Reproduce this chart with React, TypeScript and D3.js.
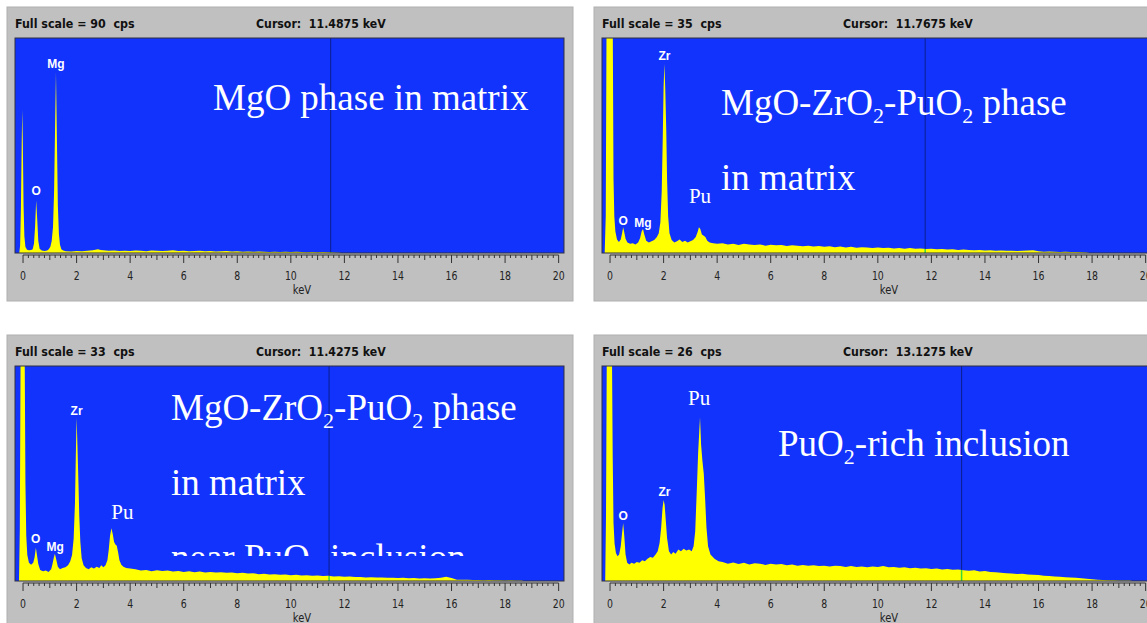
import * as d3 from "d3";

type Pt = [number, number];

// ---- data (keV, cps) ----
const fullScales = [90, 35, 33, 26];
const cursorKeV = [11.4875, 11.7675, 11.4275, 13.1275];
const majorTicks = [0, 2, 4, 6, 8, 10, 12, 14, 16, 18, 20];
const tailStep = 0.2;

// MgO phase in matrix
const mgoPeaks: Pt[] = [
  [-0.3, 0], [-0.14, 0], [-0.11, 3], [-0.08, 18], [-0.05, 45], [-0.03, 60], [-0.01, 48],
  [0.02, 20], [0.05, 7], [0.09, 2.5], [0.15, 1.4], [0.22, 1.1], [0.3, 1.3], [0.36, 1.6],
  [0.41, 4], [0.45, 11], [0.49, 22], [0.53, 14], [0.57, 5], [0.62, 1.8], [0.7, 1.0],
  [0.8, 0.8], [0.9, 1.0], [0.96, 1.6], [1.02, 2.6], [1.07, 5], [1.12, 11], [1.16, 26],
  [1.2, 55], [1.23, 75.8], [1.26, 52], [1.3, 20], [1.34, 8], [1.38, 3.5], [1.43, 1.6],
  [1.5, 1.0], [1.6, 0.7], [1.8, 0.6], [2.0, 0.8], [2.2, 0.7], [2.4, 0.9], [2.6, 1.1],
  [2.8, 1.6], [2.9, 1.3],
];
const mgoTailStart = 3.0;
const mgoTail = [
  1.2, 0.9, 1.0, 0.8, 0.9, 0.8, 1.0, 0.9, 0.7, 1.0, 0.9, 0.8, 0.9, 1.1, 0.8, 0.9, 0.7, 0.8,
  0.9, 0.7, 0.8, 0.6, 0.7, 0.8, 0.6, 0.7, 0.5, 0.6, 0.5, 0.6, 0.5, 0.4, 0.5, 0.4, 0.5, 0.4,
  0.5, 0.4, 0.3, 0.4, 0.3, 0.4, 0.3, 0.2, 0.1,
];
const mgoEnd = 11.9;

// MgO-ZrO2-PuO2 phase in matrix
const matrixPeaks: Pt[] = [
  [-0.3, 0], [-0.2, 0], [-0.16, 6], [-0.13, 40], [-0.08, 80], [0, 95], [0.06, 80], [0.1, 40],
  [0.13, 12], [0.16, 6], [0.2, 3.5], [0.26, 2.2], [0.33, 1.8], [0.4, 2.2], [0.45, 3.2],
  [0.49, 4.2], [0.53, 3.4], [0.58, 2.3], [0.65, 1.7], [0.75, 1.5], [0.85, 1.6], [0.95, 1.4],
  [1.05, 1.7], [1.12, 2.4], [1.18, 3.5], [1.23, 3.9], [1.28, 3.0], [1.35, 2.0], [1.45, 1.7],
  [1.55, 1.9], [1.65, 2.1], [1.75, 2.6], [1.82, 3.2], [1.88, 5], [1.93, 10], [1.97, 19],
  [2.0, 27], [2.03, 30.8], [2.06, 27], [2.1, 20], [2.13, 12], [2.17, 6], [2.22, 3.2],
  [2.3, 2.1], [2.4, 1.7], [2.5, 1.9], [2.6, 2.2], [2.7, 1.8], [2.8, 2.0], [2.9, 1.7],
  [3.0, 1.9], [3.1, 2.1], [3.2, 2.6], [3.27, 3.4], [3.32, 4.2], [3.37, 3.9], [3.43, 3.0],
  [3.5, 2.8], [3.56, 2.6], [3.63, 2.0], [3.72, 1.7], [3.85, 1.6], [4.0, 1.5],
];
const matrixTailStart = 4.2;
const matrixTail = [
  1.6, 1.4, 1.5, 1.3, 1.5, 1.4, 1.3, 1.4, 1.2, 1.35, 1.25, 1.3, 1.15, 1.25, 1.2, 1.1, 1.2,
  1.05, 1.15, 1.0, 1.1, 0.95, 1.05, 0.9, 1.0, 0.85, 0.95, 0.9, 0.8, 0.9, 0.8, 0.85, 0.75,
  0.8, 0.7, 0.8, 0.7, 0.75, 0.65, 0.7, 0.6, 0.65, 0.55, 0.6, 0.5, 0.55, 0.5, 0.45, 0.5,
  0.42, 0.45, 0.38, 0.4, 0.35, 0.38, 0.32, 0.35, 0.4, 0.45, 0.3, 0.22, 0.25, 0.2, 0.18, 0.2,
  0.15, 0.16, 0.12, 0.1,
];
const matrixEnd = 17.9;

// MgO-ZrO2-PuO2 phase in matrix near PuO2 inclusion
const nearPeaks: Pt[] = [
  [-0.3, 0], [-0.15, 0], [-0.12, 8], [-0.09, 50], [-0.04, 90], [0.02, 90], [0.06, 50],
  [0.09, 15], [0.12, 7], [0.16, 4], [0.22, 2.8], [0.3, 2.5], [0.38, 2.8], [0.43, 3.6],
  [0.48, 5.1], [0.52, 4.0], [0.57, 2.6], [0.64, 1.7], [0.75, 1.5], [0.85, 1.6], [0.95, 1.4],
  [1.05, 1.8], [1.1, 2.6], [1.15, 3.6], [1.19, 4.2], [1.24, 3.3], [1.3, 2.2], [1.38, 1.8],
  [1.48, 2.0], [1.58, 2.1], [1.68, 2.4], [1.76, 3.0], [1.83, 4.0], [1.89, 6.5], [1.94, 12],
  [1.97, 19], [2.0, 25.1], [2.03, 21], [2.07, 15], [2.1, 10], [2.14, 6], [2.19, 3.5],
  [2.26, 2.4], [2.35, 2.0], [2.45, 1.8], [2.55, 2.1], [2.65, 1.9], [2.75, 2.2], [2.85, 2.0],
  [2.92, 2.4], [3.0, 2.1], [3.08, 2.4], [3.15, 3.2], [3.2, 4.8], [3.25, 7], [3.3, 8.1],
  [3.35, 7.2], [3.4, 6.0], [3.45, 5.6], [3.5, 5.4], [3.55, 4.4], [3.6, 3.2], [3.67, 2.5],
  [3.75, 2.2], [3.85, 2.0], [4.0, 1.9],
];
const nearTailStart = 4.2;
const nearTail = [
  1.8, 1.6, 1.7, 1.5, 1.65, 1.55, 1.6, 1.45, 1.55, 1.4, 1.5, 1.35, 1.45, 1.3, 1.4, 1.3,
  1.35, 1.25, 1.3, 1.2, 1.25, 1.15, 1.2, 1.05, 1.1, 1.0, 1.05, 0.95, 1.0, 0.9, 0.95, 0.85,
  0.9, 0.8, 0.85, 0.75, 0.8, 0.7, 0.72, 0.65, 0.68, 0.6, 0.62, 0.55, 0.58, 0.52, 0.55, 0.48,
  0.5, 0.45, 0.48, 0.42, 0.45, 0.4, 0.42, 0.38, 0.42, 0.5, 0.65, 0.45, 0.2, 0.18, 0.2, 0.15,
  0.16, 0.12, 0.14, 0.1, 0.12, 0.09, 0.1, 0.08, 0.06,
];
const nearEnd = 18.7;

// PuO2-rich inclusion
const inclusionPeaks: Pt[] = [
  [-0.3, 0], [-0.18, 0], [-0.15, 8], [-0.12, 40], [-0.06, 60], [0.02, 60], [0.07, 40],
  [0.1, 15], [0.13, 7], [0.17, 4.5], [0.22, 3.4], [0.28, 3.0], [0.34, 3.2], [0.4, 4.2],
  [0.45, 5.8], [0.49, 7.0], [0.53, 5.5], [0.58, 3.2], [0.64, 2.2], [0.72, 2.0], [0.8, 2.2],
  [0.9, 2.1], [1.0, 2.3], [1.1, 2.2], [1.2, 2.5], [1.3, 2.4], [1.4, 2.7], [1.5, 2.9],
  [1.6, 2.8], [1.7, 3.2], [1.78, 3.6], [1.85, 4.6], [1.91, 6.5], [1.96, 8.8], [2.0, 9.8],
  [2.04, 9.2], [2.08, 7.4], [2.13, 5.2], [2.2, 3.6], [2.28, 3.2], [2.36, 3.5], [2.45, 3.3],
  [2.55, 3.8], [2.65, 3.6], [2.75, 3.9], [2.85, 3.7], [2.95, 3.8], [3.05, 3.6], [3.12, 4.2],
  [3.18, 6], [3.24, 11], [3.29, 15.5], [3.33, 18], [3.36, 19.8], [3.4, 16.5], [3.45, 14.5],
  [3.5, 13], [3.55, 10], [3.6, 6.5], [3.66, 4.2], [3.75, 3.2], [3.9, 2.7], [4.05, 2.4],
];
const inclusionTailStart = 4.2;
const inclusionTail = [
  2.3, 2.1, 2.25, 2.05, 2.2, 2.0, 2.15, 2.1, 1.95, 2.1, 2.0, 2.05, 1.9, 2.0, 1.85, 1.95,
  1.85, 1.9, 1.8, 1.85, 1.75, 1.85, 1.8, 1.7, 1.8, 1.7, 1.75, 1.65, 1.75, 1.7, 1.8, 1.65,
  1.7, 1.6, 1.65, 1.55, 1.6, 1.5, 1.55, 1.45, 1.5, 1.4, 1.45, 1.35, 1.4, 1.3, 1.25, 1.3,
  1.15, 1.2, 1.1, 1.05, 1.0, 0.95, 0.9, 0.85, 0.88, 0.8, 0.75, 0.72, 0.65, 0.6, 0.55, 0.5,
  0.45, 0.42, 0.38, 0.32, 0.28, 0.22, 0.15, 0.12, 0.1, 0.08, 0.07, 0.06, 0.05,
];
const inclusionEnd = 19.5;

// ---- layout ----
const W = 1147;
const H = 623;
const panelW = 566;
const panelH = 294;
const plotLeft = 8;
const plotTop = 31;
const plotW = 549;
const plotH = 215;
const xDomain: [number, number] = [-0.3, 20.2];

const BLUE = "#1133fb";
const YELLOW = "#ffff00";
const GRAY = "#c0c0c0";
const NARROW = "'Liberation Sans Narrow', 'Arial Narrow', 'DejaVu Sans Condensed', sans-serif";
const SERIF = "'Liberation Serif', 'Times New Roman', serif";

function buildSpectrum(peaks: Pt[], tailStart: number, tail: number[], end: number): Pt[] {
  const tailPts = tail.map((v, i) => [+(tailStart + i * tailStep).toFixed(2), v] as Pt);
  return [...peaks, ...tailPts, [end, 0], [xDomain[1], 0]];
}

type Mark = { text: string; kev: number; y: number; serif?: boolean };
type Note = { text: string; x: number; y: number; clipBottom?: number };

function NoteText({ note }: { note: Note }) {
  // "₂" becomes a lowered subscript 2
  const parts = note.text.split("₂");
  const kids: any[] = [];
  parts.forEach((p, i) => {
    kids.push(
      <tspan key={"p" + i} dy={i === 0 ? 0 : -8} fontSize={37}>
        {p}
      </tspan>
    );
    if (i < parts.length - 1)
      kids.push(
        <tspan key={"s" + i} dy={8} fontSize={22}>
          2
        </tspan>
      );
  });
  return (
    <text x={note.x} y={note.y} fill="#ffffff" fontFamily={SERIF} fontSize={37}>
      {kids}
    </text>
  );
}

function Panel({
  id, x0, y0, fullScale, cursor, spectrum, marks, notes,
}: {
  id: string; x0: number; y0: number; fullScale: number; cursor: number;
  spectrum: Pt[]; marks: Mark[]; notes: Note[];
}) {
  const x = d3.scaleLinear().domain(xDomain).range([0, plotW]);
  const y = d3.scaleLinear().domain([0, fullScale]).range([plotH, 0]);
  const area = d3
    .area<Pt>()
    .x((d) => x(d[0]))
    .y0(plotH)
    .y1((d) => y(Math.min(d[1], fullScale * 1.1)));

  const minor = d3.range(0, 100.5, 1).map((i) => i * 0.2);
  const cx = x(cursor);
  const i = d3.bisector((d: Pt) => d[0]).right(spectrum, cursor) - 1;
  const a = spectrum[Math.max(0, i)];
  const b = spectrum[Math.min(spectrum.length - 1, i + 1)];
  const cv = b[0] === a[0] ? a[1] : a[1] + ((b[1] - a[1]) * (cursor - a[0])) / (b[0] - a[0]);

  return (
    <g transform={`translate(${x0},${y0})`}>
      <rect width={panelW} height={panelH} fill={GRAY} stroke="#b0b0b0" />
      <text
        transform="translate(8,21) scale(0.95,1)"
        fontFamily={NARROW}
        fontWeight="bold"
        fontSize={13}
        fill="#111"
      >
        {`Full scale = ${fullScale}\u00a0\u00a0cps`}
      </text>
      <text
        transform="translate(249,21) scale(0.94,1)"
        fontFamily={NARROW}
        fontWeight="bold"
        fontSize={13}
        fill="#111"
      >
        {`Cursor:\u00a0\u00a0${cursor.toFixed(4)} keV`}
      </text>

      <g transform={`translate(${plotLeft},${plotTop})`}>
        <defs>
          <clipPath id={`plot-${id}`}>
            <rect width={plotW} height={plotH} />
          </clipPath>
        </defs>
        <rect width={plotW} height={plotH} fill={BLUE} />
        <g clipPath={`url(#plot-${id})`}>
          <line x1={cx} x2={cx} y1={0} y2={plotH} stroke="#0b1f8f" strokeWidth={1} />
          <path d={area(spectrum) ?? ""} fill={YELLOW} />
          <line x1={cx} x2={cx} y1={plotH} y2={y(cv)} stroke="#3ad83a" strokeWidth={1.5} />
          {notes.map((n, k) => {
            const clip = n.clipBottom;
            return clip === undefined ? (
              <NoteText key={k} note={n} />
            ) : (
              <g key={k}>
                <clipPath id={`note-${id}-${k}`}>
                  <rect x={0} y={0} width={plotW} height={clip} />
                </clipPath>
                <g clipPath={`url(#note-${id}-${k})`}>
                  <NoteText note={n} />
                </g>
              </g>
            );
          })}
          {marks.map((m, k) => (
            <text
              key={k}
              x={x(m.kev)}
              y={m.y}
              textAnchor="middle"
              fill="#ffffff"
              fontFamily={m.serif ? SERIF : "'Liberation Sans', Arial, sans-serif"}
              fontWeight={m.serif ? "normal" : "bold"}
              fontSize={m.serif ? 21 : 12}
            >
              {m.text}
            </text>
          ))}
        </g>
        <rect width={plotW} height={plotH} fill="none" stroke="#303040" strokeWidth={1} />

        {/* keV axis */}
        <g transform={`translate(0,${plotH + 2})`} stroke="#333" strokeWidth={1}>
          <line x1={x(0)} x2={x(20)} y1={0} y2={0} />
          {minor.map((v) => {
            const r = Math.round(v * 10) / 10;
            const len = r % 2 === 0 ? 8 : r % 1 === 0 ? 5 : 3;
            return <line key={v} x1={x(r)} x2={x(r)} y1={0} y2={len} />;
          })}
        </g>
        {majorTicks.map((t) => (
          <text
            key={t}
            transform={`translate(${x(t)},${plotH + 27}) scale(0.8,1)`}
            textAnchor="middle"
            fontFamily={NARROW}
            fontSize={13}
            fill="#222"
          >
            {t}
          </text>
        ))}
        <text
          transform={`translate(${x(10) + 2},${plotH + 41}) scale(0.85,1)`}
          fontFamily={NARROW}
          fontSize={13}
          fill="#222"
        >
          keV
        </text>
      </g>
    </g>
  );
}

const panels = [
  {
    id: "mgo", x0: 7, y0: 7, spectrum: buildSpectrum(mgoPeaks, mgoTailStart, mgoTail, mgoEnd),
    marks: [
      { text: "Mg", kev: 1.23, y: 30 },
      { text: "O", kev: 0.49, y: 157 },
    ],
    notes: [{ text: "MgO phase in matrix", x: 198, y: 72 }],
  },
  {
    id: "matrix", x0: 594, y0: 7,
    spectrum: buildSpectrum(matrixPeaks, matrixTailStart, matrixTail, matrixEnd),
    marks: [
      { text: "Zr", kev: 2.03, y: 22 },
      { text: "O", kev: 0.49, y: 187 },
      { text: "Mg", kev: 1.23, y: 189 },
      { text: "Pu", kev: 3.36, y: 165, serif: true },
    ],
    notes: [
      { text: "MgO-ZrO₂-PuO₂ phase", x: 119, y: 77 },
      { text: "in matrix", x: 119, y: 152 },
    ],
  },
  {
    id: "near", x0: 7, y0: 335,
    spectrum: buildSpectrum(nearPeaks, nearTailStart, nearTail, nearEnd),
    marks: [
      { text: "Zr", kev: 2.0, y: 49 },
      { text: "O", kev: 0.47, y: 177 },
      { text: "Mg", kev: 1.2, y: 185 },
      { text: "Pu", kev: 3.71, y: 153, serif: true },
    ],
    notes: [
      { text: "MgO-ZrO₂-PuO₂ phase", x: 156, y: 54 },
      { text: "in matrix", x: 156, y: 129 },
      { text: "near PuO₂ inclusion", x: 156, y: 204, clipBottom: 190 },
    ],
  },
  {
    id: "inclusion", x0: 594, y0: 335,
    spectrum: buildSpectrum(inclusionPeaks, inclusionTailStart, inclusionTail, inclusionEnd),
    marks: [
      { text: "Zr", kev: 2.03, y: 130 },
      { text: "O", kev: 0.49, y: 154 },
      { text: "Pu", kev: 3.33, y: 39, serif: true },
    ],
    notes: [{ text: "PuO₂-rich inclusion", x: 176, y: 90 }],
  },
];

export default function App() {
  return (
    <svg
      width={W}
      height={H}
      style={{ position: "absolute", left: 0, top: 0, display: "block", background: "#ffffff" }}
    >
      {panels.map((p, k) => (
        <Panel
          key={p.id}
          id={p.id}
          x0={p.x0}
          y0={p.y0}
          fullScale={fullScales[k]}
          cursor={cursorKeV[k]}
          spectrum={p.spectrum}
          marks={p.marks}
          notes={p.notes}
        />
      ))}
    </svg>
  );
}
